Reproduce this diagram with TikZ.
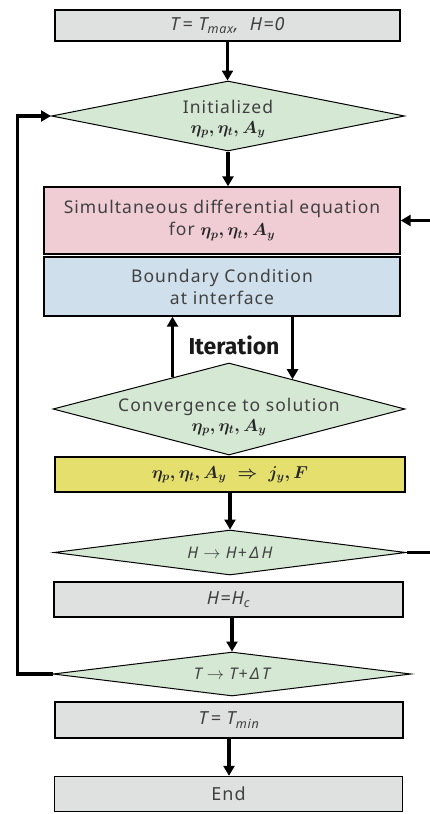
\documentclass[tikz,border=0pt]{standalone}
\usepackage{amsmath}
\usepackage{fontspec}
\setmainfont{Noto Sans}[LetterSpace=6]
\newfontfamily\iterfont{Fira Sans}
\usetikzlibrary{shapes.geometric, arrows.meta, positioning, calc}
\definecolor{gray1}{RGB}{223, 225, 224}
\definecolor{green1}{RGB}{213, 232, 212}
\definecolor{pink1}{RGB}{240, 205, 213}
\definecolor{blue1}{RGB}{207, 224, 236}
\definecolor{yellow1}{RGB}{229, 224, 110}
\definecolor{text1}{RGB}{64, 64, 64}
\newcommand{\fieldvars}{{\color{black!85}\boldmath$\eta_p, \eta_t, A_y$}}
\tikzset{
  procbox/.style={draw=black, line width=1.4pt, fill=gray1, inner sep=0pt, text=text1,
    align=center, font=\fontsize{18}{22}\selectfont},
  decision/.style={diamond, draw=black, line width=1pt, fill=green1, inner sep=0pt},
  dlabel/.style={text=text1, align=center, font=\fontsize{17.5}{20}\selectfont},
  arrowline/.style={line width=3.5pt, -{Triangle[width=11pt, length=10pt]}}
}

\begin{document}
\begin{tikzpicture}[x=1pt, y=-1pt]
  \useasboundingbox (0,0) rectangle (430,814);

  \node[procbox, minimum width=345pt, minimum height=31pt] (start) at (227.5,25.5)
    {\itshape T\,= T\textsubscript{max}, \ H=0};
  \node[decision, minimum width=353pt, minimum height=70pt,
    label={[dlabel, yshift=-3pt]center:Initialized\\\fieldvars}] (init) at (228,116) {};
  \node[procbox, fill=pink1, minimum width=356pt, minimum height=67pt,
    font=\fontsize{17.5}{22}\selectfont] (sde) at (222,220.5)
    {Simultaneous differential equation\\for \fieldvars};
  \node[procbox, fill=blue1, minimum width=356pt, minimum height=59pt,
    font=\fontsize{17.5}{22}\selectfont] (bc) at (222,286.5)
    {Boundary Condition\\at interface};
  \node[decision, minimum width=352pt, minimum height=92pt,
    label={[dlabel, yshift=-8pt]center:Convergence to solution\\\fieldvars}] (conv) at (229,409) {};
  \node[procbox, fill=yellow1, line width=2pt, minimum width=350pt, minimum height=35pt,
    font=\fontsize{17.5}{21}\selectfont] (result) at (230,474.5)
    {{\color{black!85}\boldmath$\eta_p, \eta_t, A_y \;\Rightarrow\; j_y, F$}};
  \node[decision, minimum width=352pt, minimum height=45pt,
    label={[dlabel, font=\fontsize{16}{20}\selectfont]center:{\itshape H $\rightarrow$ H+\,Δ\,H}}] (hstep) at (230,552.5) {};
  \node[procbox, minimum width=349pt, minimum height=35pt] (hc) at (228.5,599.5)
    {\itshape H=H\textsubscript{c}};
  \node[decision, minimum width=358pt, minimum height=44pt,
    label={[dlabel, font=\fontsize{16}{20}\selectfont]center:{\itshape T $\rightarrow$ T+\,Δ\,T}}] (tstep) at (232,674) {};
  \node[procbox, minimum width=348pt, minimum height=36pt] (tmin) at (229,720)
    {\itshape T\,= T\textsubscript{min}};
  \node[procbox, minimum width=348pt, minimum height=35pt] (finish) at (228.5,794)
    {End};
  \node[font=\iterfont\fontsize{23}{26}\selectfont\bfseries, text=black!90] (iter) at (234,345) {Iteration};

  % main flow
  \draw[arrowline] (start.south) -- (start.south |- init.north);
  \draw[arrowline] (init.south) -- (init.south |- sde.north);
  \draw[arrowline] (result.south) -- (result.south |- hstep.north);
  \draw[arrowline] (tstep.north |- hc.south) -- (tstep.north);
  \draw[arrowline] (tmin.south) -- (tmin.south |- finish.north);

  % iteration loop
  \coordinate (upfoot) at ($(conv.north)!0.32!(conv.west)$);
  \coordinate (downtip) at ($(conv.north)!0.36!(conv.east)$);
  \draw[arrowline] (upfoot) -- (upfoot |- bc.south);
  \draw[arrowline] (downtip |- bc.south) -- (downtip);

  % outer loops
  \draw[arrowline] (tstep.west) -- ++(-35,0) |- (init.west);
  \draw[arrowline] (hstep.east) -- ++(40,0) |- (sde.east);
\end{tikzpicture}
\end{document}
